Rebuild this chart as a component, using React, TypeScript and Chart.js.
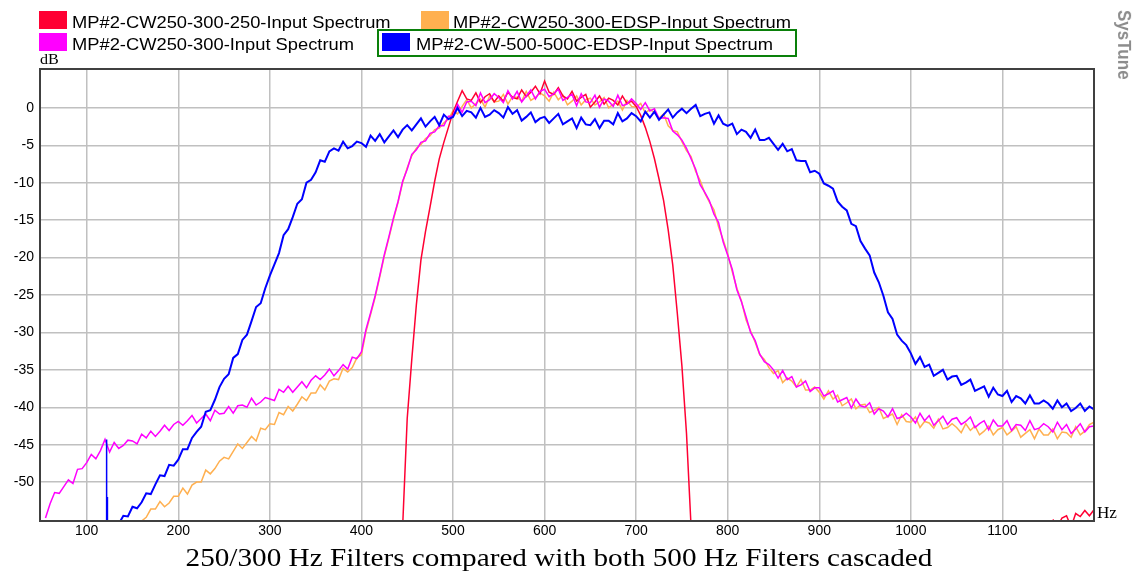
import React, { useEffect, useRef } from "react";
import { Chart, registerables } from "chart.js";

Chart.register(...registerables);

const _ = null;

// Frequency grid (Hz)
const freqHz = [
  50, 55, 60, 65, 70, 75, 80, 85, 90, 95,
  100, 105, 110, 115, 120, 125, 130, 135, 140, 145,
  150, 155, 160, 165, 170, 175, 180, 185, 190, 195,
  200, 205, 210, 215, 220, 225, 230, 235, 240, 245,
  250, 255, 260, 265, 270, 275, 280, 285, 290, 295,
  300, 305, 310, 315, 320, 325, 330, 335, 340, 345,
  350, 355, 360, 365, 370, 375, 380, 385, 390, 395,
  400, 405, 410, 415, 420, 425, 430, 435, 440, 445,
  450, 455, 460, 465, 470, 475, 480, 485, 490, 495,
  500, 505, 510, 515, 520, 525, 530, 535, 540, 545,
  550, 555, 560, 565, 570, 575, 580, 585, 590, 595,
  600, 605, 610, 615, 620, 625, 630, 635, 640, 645,
  650, 655, 660, 665, 670, 675, 680, 685, 690, 695,
  700, 705, 710, 715, 720, 725, 730, 735, 740, 745,
  750, 755, 760, 765, 770, 775, 780, 785, 790, 795,
  800, 805, 810, 815, 820, 825, 830, 835, 840, 845,
  850, 855, 860, 865, 870, 875, 880, 885, 890, 895,
  900, 905, 910, 915, 920, 925, 930, 935, 940, 945,
  950, 955, 960, 965, 970, 975, 980, 985, 990, 995,
  1000, 1005, 1010, 1015, 1020, 1025, 1030, 1035, 1040, 1045,
  1050, 1055, 1060, 1065, 1070, 1075, 1080, 1085, 1090, 1095,
  1100, 1105, 1110, 1115, 1120, 1125, 1130, 1135, 1140, 1145,
  1150, 1155, 1160, 1165, 1170, 1175, 1180, 1185, 1190, 1195,
  1200,
];

// MP#2-CW250-300-250-Input Spectrum (dB)
const redDb = [
  _, _, _, _, _, _, _, _, _, _,
  _, _, _, _, _, _, _, _, _, _,
  _, _, _, _, _, _, _, _, _, _,
  _, _, _, _, _, _, _, _, _, _,
  _, _, _, _, _, _, _, _, _, _,
  _, _, _, _, _, _, _, _, _, _,
  _, _, _, _, _, _, _, _, _, _,
  _, _, _, _, _, _, _, _, _, -56.0,
  -41.5, -33.6, -26.3, -20.3, -16.5, -13.2, -9.8, -6.8, -4.6, -2.6,
  -0.6, 0.9, 2.3, 1.2, 1.0, 2.0, 0.7, 1.5, 1.9, 0.8,
  1.6, 0.9, 2.1, 1.4, 1.2, 2.4, 1.5, 2.1, 2.9, 1.9,
  3.6, 2.1, 1.8, 2.7, 1.6, 1.2, 2.2, 0.9, 1.4, 1.8,
  0.1, 0.8, 1.6, 0.5, 1.3, 1.0, 0.4, 1.6, 0.6, 0.9,
  0.2, -1.0, -2.6, -4.5, -6.8, -9.5, -12.4, -16.3, -21.0, -27.5,
  -34.5, -43.5, -56.0, _, _, _, _, _, _, _,
  _, _, _, _, _, _, _, _, _, _,
  _, _, _, _, _, _, _, _, _, _,
  _, _, _, _, _, _, _, _, _, _,
  _, _, _, _, _, _, _, _, _, _,
  _, _, _, _, _, _, _, _, _, _,
  _, _, _, _, _, _, _, _, _, _,
  _, _, _, _, _, _, _, _, _, _,
  _, -55.0, -56.0, -54.8, -54.5, -56.0, -54.2, -54.6, -53.8, -54.5,
  -53.7,
];

// MP#2-CW250-300-Input Spectrum (dB)
const magentaDb = [
  _, -54.8, -52.9, -51.4, -51.5, -50.6, -49.7, -50.2, -48.3, -48.2,
  -47.4, -46.3, -46.9, -45.8, -44.3, -46.0, -44.7, -45.5, -45.1, -44.4,
  -44.5, -44.9, -43.6, -44.1, -43.2, -43.9, -43.2, -42.4, -43.1, -42.3,
  -41.9, -42.4, -41.8, -41.1, -42.1, -41.5, -40.9, -41.8, -40.4, -40.9,
  -40.8, -39.9, -40.8, -39.8, -39.7, -40.0, -38.8, -39.7, -39.3, -38.7,
  -38.9, -39.1, -37.6, -38.0, -37.2, -38.0, -37.3, -36.6, -37.4, -36.4,
  -35.8, -36.3, -35.7, -34.9, -35.8, -35.1, -34.3, -34.9, -33.3, -33.5,
  -32.6, -29.6, -27.4, -25.1, -22.4, -19.6, -17.2, -14.7, -12.5, -9.8,
  -8.2, -6.2, -5.6, -4.6, -4.4, -3.4, -3.2, -2.4, -2.4, -1.1,
  -1.1, 0.5, -0.6, 0.8, 0.9, 0.3, 2.0, 0.7, 1.1, 1.9,
  1.4, 0.7, 2.3, 1.2, 2.2, 0.8, 1.6, 2.4, 1.2, 2.2,
  2.5, 1.5, 1.9, 2.5, 1.0, 1.4, 1.8, 0.3, 1.9, 0.8,
  0.7, 1.7, 0.1, 1.2, 0.9, 0.2, 1.7, 0.3, 0.5, 1.2,
  0.6, -0.2, 0.7, -0.4, -0.1, -1.4, -1.3, -1.4, -3.1, -3.6,
  -4.3, -5.4, -6.8, -8.2, -10.3, -11.3, -12.4, -14.2, -15.3, -17.9,
  -19.7, -21.6, -24.3, -25.9, -27.9, -30.0, -31.1, -32.9, -33.9, -34.3,
  -35.0, -36.1, -35.1, -36.3, -35.9, -37.3, -37.0, -36.5, -37.9, -37.4,
  -37.4, -38.5, -38.2, -37.8, -39.3, -39.0, -38.7, -40.1, -38.9, -39.8,
  -40.0, -39.4, -40.9, -40.2, -40.5, -41.3, -40.2, -41.5, -41.3, -40.8,
  -41.3, -42.1, -40.8, -41.8, -41.1, -42.4, -41.8, -41.2, -42.3, -41.6,
  -41.4, -42.3, -41.9, -41.3, -42.7, -42.2, -41.8, -43.0, -41.7, -42.5,
  -42.5, -41.8, -43.1, -42.3, -42.4, -43.1, -41.8, -43.0, -42.8, -42.2,
  -42.6, -43.3, -42.0, -43.0, -42.3, -43.5, -42.9, -42.2, -43.3, -42.6,
  -42.5,
];

// MP#2-CW250-300-EDSP-Input Spectrum (dB)
const orangeDb = [
  _, _, _, _, _, _, _, _, _, _,
  _, _, _, _, _, _, _, _, _, _,
  _, _, -55.2, -54.7, -53.6, -53.6, -52.6, -53.3, -52.8, -51.9,
  -51.9, -50.8, -51.6, -50.4, -50.0, -50.0, -48.4, -48.9, -48.2, -47.2,
  -46.7, -46.9, -45.9, -44.9, -45.5, -44.7, -43.9, -44.5, -42.8, -43.0,
  -42.2, -42.3, -40.7, -41.0, -39.9, -40.5, -39.6, -38.6, -39.1, -38.1,
  -38.1, -37.0, -37.7, -36.5, -36.2, -36.3, -34.8, -35.3, -34.7, -33.4,
  -33.0, -29.9, -27.6, -25.3, -22.6, -19.8, -17.4, -14.9, -12.6, -10.0,
  -8.0, -6.4, -5.4, -4.9, -4.1, -3.7, -2.9, -2.7, -2.0, -1.5,
  -0.4, -0.8, 0.2, 1.1, 0.0, 0.6, 1.2, 0.1, 1.6, 0.8,
  0.9, 1.8, 0.5, 1.5, 1.4, 0.9, 2.2, 1.0, 1.4, 2.0,
  1.6, 0.9, 2.1, 1.1, 1.7, 0.4, 0.9, 1.6, 0.4, 1.1,
  1.3, 0.4, 0.8, 1.4, 0.0, 0.5, 0.9, -0.3, 1.0, 0.2,
  0.1, 0.6, -0.7, -0.2, -0.6, -1.4, -0.8, -2.4, -3.0, -3.2,
  -4.5, -5.7, -6.5, -8.5, -9.7, -11.4, -12.6, -13.6, -15.9, -17.6,
  -19.5, -21.9, -24.1, -25.8, -28.3, -29.8, -31.3, -33.0, -33.6, -34.7,
  -35.5, -35.1, -36.7, -36.1, -36.5, -37.3, -36.3, -37.7, -37.7, -37.3,
  -38.0, -38.9, -37.8, -38.9, -38.4, -39.8, -39.4, -38.9, -40.2, -39.7,
  -39.6, -40.7, -40.4, -40.0, -41.5, -41.2, -40.9, -42.3, -41.0, -41.9,
  -42.0, -41.3, -42.7, -41.9, -42.1, -42.8, -41.6, -42.9, -42.7, -42.2,
  -42.7, -43.4, -42.2, -43.1, -42.5, -43.7, -43.2, -42.5, -43.7, -43.0,
  -42.7, -43.7, -43.2, -42.6, -44.0, -43.5, -43.0, -44.2, -42.9, -43.7,
  -43.7, -42.9, -44.2, -43.3, -43.4, -44.0, -42.6, -43.7, -43.2, -42.3,
  -42.0,
];

// MP#2-CW-500-500C-EDSP-Input Spectrum (dB)
const blueDb = [
  _, _, _, _, _, _, _, _, _, _,
  _, _, _, _, _, _, _, -55.6, -54.5, -54.6,
  -53.3, -53.5, -52.7, -51.5, -51.6, -50.3, -49.1, -49.2, -47.7, -47.8,
  -47.0, -45.6, -45.6, -44.1, -43.3, -42.6, -40.6, -40.4, -39.0, -37.3,
  -36.2, -35.6, -33.4, -32.9, -31.0, -30.3, -28.5, -26.6, -26.1, -24.1,
  -22.4, -20.9, -19.4, -17.0, -16.2, -14.6, -12.8, -12.2, -10.0, -9.6,
  -8.6, -7.0, -7.2, -5.8, -5.4, -5.7, -4.5, -5.4, -5.1, -4.5,
  -4.7, -5.2, -3.7, -4.4, -3.5, -4.6, -3.8, -3.0, -3.9, -2.9,
  -2.3, -3.0, -2.2, -1.4, -2.5, -1.8, -1.2, -2.3, -0.9, -1.5,
  -1.2, 0.0, -1.1, -0.4, -0.6, -1.3, 0.0, -1.2, -0.9, -0.3,
  -0.7, -1.3, 0.1, -0.8, -0.3, -1.7, -1.2, -0.6, -1.9, -1.4,
  -1.2, -2.0, -1.4, -0.8, -2.2, -1.8, -1.4, -2.7, -1.3, -2.2,
  -2.3, -1.5, -2.7, -1.7, -1.7, -2.2, -0.7, -1.8, -1.4, -0.7,
  -1.1, -1.8, -0.5, -1.3, -0.5, -1.6, -0.9, -0.2, -1.3, -0.6,
  -0.1, -0.7, -0.1, 0.4, -1.1, -0.8, -0.6, -2.1, -1.0, -2.1,
  -2.4, -2.1, -3.5, -2.9, -3.2, -4.0, -2.9, -4.3, -4.3, -4.0,
  -4.8, -5.6, -4.8, -5.8, -5.5, -7.0, -7.1, -7.1, -8.6, -8.4,
  -8.8, -10.1, -10.4, -10.8, -12.5, -13.2, -13.7, -15.5, -15.8, -17.8,
  -18.8, -19.7, -22.0, -23.3, -25.1, -27.3, -28.2, -30.3, -31.1, -31.7,
  -32.8, -34.2, -33.3, -34.6, -34.3, -35.8, -35.4, -35.0, -36.3, -35.9,
  -35.8, -37.0, -36.7, -36.3, -37.8, -37.5, -37.2, -38.6, -37.4, -38.3,
  -38.5, -37.8, -39.3, -38.5, -38.8, -39.5, -38.4, -39.5, -39.5, -39.1,
  -39.5, -40.2, -39.1, -40.0, -39.5, -40.5, -40.1, -39.5, -40.5, -39.9,
  -40.3,
];

// Narrow hum spike on the blue trace near 122 Hz
const blueSpikeHz = [121.2, 121.6, 121.9, 122.2, 122.5, 122.8];
const blueSpikeDb = [-56, -44.3, -51.5, -56, -52, -56];

const xTickHz = [100, 200, 300, 400, 500, 600, 700, 800, 900, 1000, 1100];
const yTickDb = [0, -5, -10, -15, -20, -25, -30, -35, -40, -45, -50];

const seriesLabels = [
  "MP#2-CW250-300-250-Input Spectrum",
  "MP#2-CW250-300-EDSP-Input Spectrum",
  "MP#2-CW250-300-Input Spectrum",
  "MP#2-CW-500-500C-EDSP-Input Spectrum",
];
const seriesColors = ["#ff0033", "#ffb050", "#ff00ff", "#0000ff"];

const chartTitle = "250/300 Hz Filters compared with both 500 Hz Filters cascaded";

const toPoints = (ys: (number | null)[]) => freqHz.map((x, i) => ({ x, y: ys[i] }));

const framePlugin = {
  id: "frame",
  afterDatasetsDraw(chart: any) {
    const { ctx, chartArea: a } = chart;
    ctx.save();
    ctx.strokeStyle = "#404040";
    ctx.lineWidth = 2;
    ctx.strokeRect(a.left, a.top, a.right - a.left, a.bottom - a.top);
    ctx.restore();
  },
};

const tickFont = { family: "'Liberation Sans', Arial, sans-serif", size: 14 };

export default function App() {
  const ref = useRef<HTMLCanvasElement>(null);

  useEffect(() => {
    const canvas = ref.current;
    if (!canvas) return;
    const chart = new Chart(canvas, {
      type: "line",
      data: {
        datasets: [
          {
            label: seriesLabels[3],
            data: toPoints(blueDb),
            borderColor: seriesColors[3],
            borderWidth: 2,
            order: 0,
          },
          {
            label: seriesLabels[3] + " spike",
            data: blueSpikeHz.map((x, i) => ({ x, y: blueSpikeDb[i] })),
            borderColor: seriesColors[3],
            borderWidth: 1.5,
            order: 0,
          },
          {
            label: seriesLabels[2],
            data: toPoints(magentaDb),
            borderColor: seriesColors[2],
            borderWidth: 1.5,
            order: 1,
          },
          {
            label: seriesLabels[0],
            data: toPoints(redDb),
            borderColor: seriesColors[0],
            borderWidth: 1.5,
            order: 2,
          },
          {
            label: seriesLabels[1],
            data: toPoints(orangeDb),
            borderColor: seriesColors[1],
            borderWidth: 1.5,
            order: 3,
          },
        ] as any,
      },
      options: {
        animation: false,
        responsive: false,
        devicePixelRatio: 1,
        spanGaps: false,
        layout: { padding: { top: 69, right: 42, left: 0, bottom: 0 } },
        elements: {
          point: { radius: 0, hoverRadius: 0 },
          line: { tension: 0, fill: false },
        },
        plugins: {
          legend: { display: false },
          title: { display: false },
          tooltip: { enabled: false },
        },
        scales: {
          x: {
            type: "linear",
            min: 49,
            max: 1200,
            afterFit: (s: any) => {
              s.height = 54;
            },
            afterBuildTicks: (s: any) => {
              s.ticks = xTickHz.map((v) => ({ value: v }));
            },
            grid: { color: "#c0c0c0", lineWidth: 1.5, drawTicks: false },
            border: { display: false },
            ticks: {
              font: tickFont,
              color: "#000",
              padding: 2,
              maxRotation: 0,
              autoSkip: false,
              callback: (v: any) => String(v),
            },
          },
          y: {
            type: "linear",
            min: -55.2,
            max: 5.2,
            afterFit: (s: any) => {
              s.width = 40;
            },
            afterBuildTicks: (s: any) => {
              s.ticks = yTickDb.map((v) => ({ value: v }));
            },
            grid: { color: "#c0c0c0", lineWidth: 1.5, drawTicks: false },
            border: { display: false },
            ticks: {
              font: tickFont,
              color: "#000",
              padding: 6,
              autoSkip: false,
              callback: (v: any) => String(v),
            },
          },
        },
      } as any,
      plugins: [framePlugin],
    });
    return () => chart.destroy();
  }, []);

  const legendFont: React.CSSProperties = {
    position: "absolute",
    fontFamily: "'Liberation Sans', Arial, sans-serif",
    fontSize: 16.5,
    lineHeight: "18px",
    color: "#000",
    whiteSpace: "nowrap",
    transformOrigin: "0 0",
    transform: "scaleX(1.11)",
  };
  const box = (left: number, top: number, color: string): React.CSSProperties => ({
    position: "absolute",
    left,
    top,
    width: 28,
    height: 18,
    background: color,
  });

  return (
    <div
      style={{
        position: "absolute",
        left: 0,
        top: 0,
        width: 1136,
        height: 575,
        background: "#fff",
        overflow: "hidden",
      }}
    >
      <canvas
        ref={ref}
        width={1136}
        height={575}
        style={{ position: "absolute", left: 0, top: 0, width: 1136, height: 575 }}
      />
      {/* legend */}
      <div style={box(39, 11, seriesColors[0])} />
      <div style={{ ...legendFont, left: 72, top: 12.6 }}>{seriesLabels[0]}</div>
      <div style={box(421, 11, seriesColors[1])} />
      <div style={{ ...legendFont, left: 453, top: 12.6 }}>{seriesLabels[1]}</div>
      <div style={box(39, 33, seriesColors[2])} />
      <div style={{ ...legendFont, left: 72, top: 35.3 }}>{seriesLabels[2]}</div>
      <div
        style={{
          position: "absolute",
          left: 377,
          top: 29,
          width: 420,
          height: 28,
          boxSizing: "border-box",
          border: "2px solid #0a800a",
        }}
      />
      <div style={box(382, 33, seriesColors[3])} />
      <div style={{ ...legendFont, left: 416, top: 35.3 }}>{seriesLabels[3]}</div>
      {/* axis unit labels */}
      <div
        style={{
          position: "absolute",
          left: 40,
          top: 52.3,
          fontFamily: "'Liberation Serif', 'Times New Roman', serif",
          fontSize: 14,
          lineHeight: "16px",
          color: "#000",
          transformOrigin: "0 0",
          transform: "scaleX(1.15)",
          whiteSpace: "nowrap",
        }}
      >
        dB
      </div>
      <div
        style={{
          position: "absolute",
          left: 1097,
          top: 503.6,
          fontFamily: "'Liberation Serif', 'Times New Roman', serif",
          fontSize: 16,
          lineHeight: "18px",
          color: "#000",
          transformOrigin: "0 0",
          transform: "scaleX(1.07)",
          whiteSpace: "nowrap",
        }}
      >
        Hz
      </div>
      {/* title */}
      <div
        style={{
          position: "absolute",
          left: 558.5,
          top: 544.3,
          fontFamily: "'Liberation Serif', 'Times New Roman', serif",
          fontSize: 25,
          lineHeight: "28px",
          color: "#000",
          whiteSpace: "nowrap",
          transform: "translateX(-50%) scaleX(1.168)",
        }}
      >
        {chartTitle}
      </div>
      {/* watermark */}
      <div
        style={{
          position: "absolute",
          left: 1134,
          top: 10,
          fontFamily: "'Liberation Sans', Arial, sans-serif",
          fontWeight: "bold",
          fontSize: 17,
          lineHeight: "18px",
          color: "#8c8c8c",
          whiteSpace: "nowrap",
          transformOrigin: "0 0",
          transform: "rotate(90deg) scaleY(1.1)",
        }}
      >
        SysTune
      </div>
    </div>
  );
}
